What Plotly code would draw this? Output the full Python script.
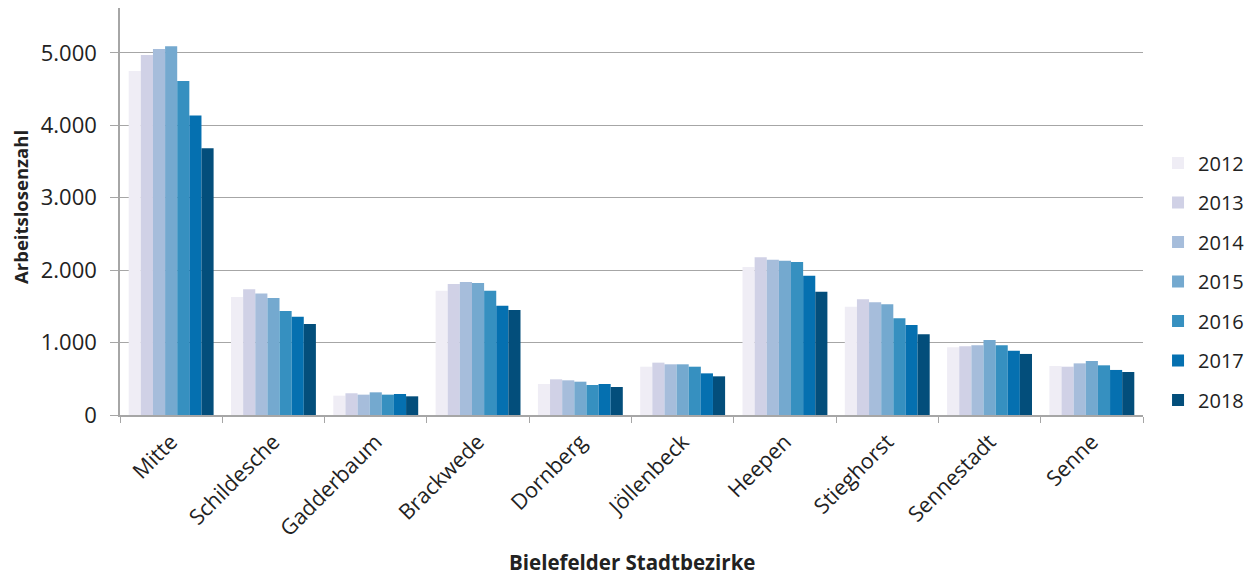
import plotly.graph_objects as go

districts = ["Mitte", "Schildesche", "Gadderbaum", "Brackwede", "Dornberg",
             "Jöllenbeck", "Heepen", "Stieghorst", "Sennestadt", "Senne"]
years = ["2012", "2013", "2014", "2015", "2016", "2017", "2018"]

v2012 = [4750, 1630, 267, 1717, 428, 667, 2044, 1496, 935, 677]
v2013 = [4972, 1736, 300, 1810, 493, 723, 2178, 1598, 948, 667]
v2014 = [5055, 1676, 281, 1837, 479, 700, 2145, 1556, 962, 713]
v2015 = [5092, 1616, 313, 1823, 460, 700, 2131, 1529, 1036, 746]
v2016 = [4613, 1436, 281, 1717, 414, 667, 2113, 1335, 962, 686]
v2017 = [4134, 1358, 290, 1510, 428, 575, 1924, 1243, 888, 622]
v2018 = [3683, 1257, 258, 1450, 387, 534, 1703, 1114, 843, 594]

series = [v2012, v2013, v2014, v2015, v2016, v2017, v2018]
colors = ["#EFEDF5", "#D0D1E6", "#A6BDDB", "#74A9CF", "#3690C0", "#0570B0", "#034E7B"]

fig = go.Figure()
for yr, vals, col in zip(years, series, colors):
    fig.add_trace(go.Bar(
        x=districts, y=vals, name=yr, legendgroup=yr,
        marker=dict(color=col, line=dict(width=0)),
    ))

font_family = "Open Sans, Lato, sans-serif"
# page body has an 8px default margin, so the figure is 8px smaller each way
fig.update_layout(
    width=1245, height=568,
    margin=dict(l=112, r=110, t=0, b=161, autoexpand=False),
    paper_bgcolor="white", plot_bgcolor="white",
    barmode="group", bargap=0.17, bargroupgap=0,
    separators=",.",
    font=dict(family=font_family, size=20, color="#222222"),
    legend=dict(
        x=1.0147, xanchor="left", y=0.328, yanchor="middle",
        font=dict(size=20, color="#222222"),
        tracegroupgap=10.5, itemwidth=30,
    ),
    xaxis=dict(
        automargin=False,
        tickangle=-45,
        tickson="boundaries",
        ticks="outside", ticklen=6, tickcolor="#a6a6a6",
        ticklabelstandoff=4,
        showline=True, linecolor="#a6a6a6", linewidth=1.5,
        tickfont=dict(size=21.5, color="#222222"),
    ),
    yaxis=dict(
        automargin=False,
        range=[0, 5620],
        tickvals=[0, 1000, 2000, 3000, 4000, 5000],
        tickformat=",d",
        ticks="outside", ticklen=8, tickcolor="#a6a6a6",
        ticklabelstandoff=9,
        showline=True, linecolor="#a6a6a6", linewidth=1.5,
        showgrid=True, gridcolor="#a6a6a6", gridwidth=1,
        zeroline=False,
        tickfont=dict(size=22, color="#222222"),
    ),
    annotations=[
        dict(text="<b>Bielefelder Stadtbezirke</b>", xref="paper", yref="paper",
             x=0.5, y=-0.3612, xanchor="center", yanchor="middle", showarrow=False,
             font=dict(size=20.5, color="#222222")),
        dict(text="<b>Arbeitslosenzahl</b>", xref="paper", yref="paper",
             x=-0.0978, y=0.511, xanchor="center", yanchor="middle", showarrow=False,
             textangle=-90, font=dict(size=18.5, color="#222222")),
    ],
)

fig.write_html("out.html")
